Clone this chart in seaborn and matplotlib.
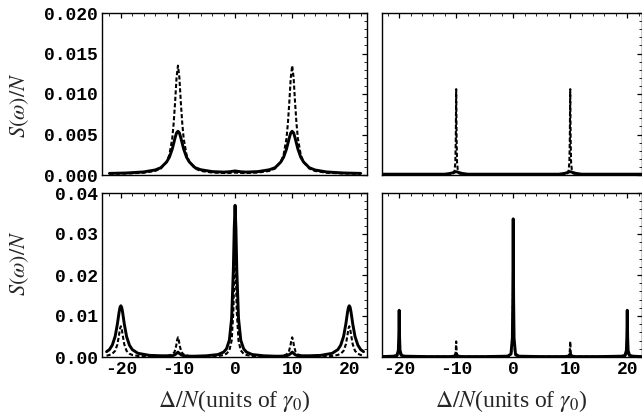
import matplotlib
matplotlib.use("Agg")
import matplotlib.pyplot as plt
from matplotlib.ticker import MultipleLocator, FormatStrFormatter
import seaborn as sns
import numpy as np

# ---- données ----
# panneau haut-gauche
x_tl = [-22, -19, -16, -14, -13, -12, -11.5, -11, -10.75, -10.5, -10.25, -10,
        -9.75, -9.5, -9.25, -9, -8.5, -8, -7, -6, -4, -2, -1, 0,
        1, 2, 4, 6, 7, 8, 8.5, 9, 9.25, 9.5, 9.75, 10,
        10.25, 10.5, 10.75, 11, 11.5, 12, 13, 14, 16, 19, 22]
solid_tl = [0.0002, 0.00025, 0.00038, 0.00062, 0.0009, 0.0016, 0.0022, 0.0032, 0.0039, 0.0046, 0.0052, 0.0054,
            0.0052, 0.0046, 0.0039, 0.0032, 0.0022, 0.0016, 0.0009, 0.00065, 0.00042, 0.00036, 0.0004, 0.0005,
            0.0004, 0.00036, 0.00042, 0.00065, 0.0009, 0.0016, 0.0022, 0.0032, 0.0039, 0.0046, 0.0052, 0.0054,
            0.0052, 0.0046, 0.0039, 0.0032, 0.0022, 0.0016, 0.0009, 0.00062, 0.00038, 0.00025, 0.0002]
dash_tl = [0.00015, 0.00018, 0.00028, 0.0005, 0.0008, 0.0016, 0.0025, 0.0045, 0.0064, 0.009, 0.012, 0.0135,
           0.012, 0.009, 0.0064, 0.0045, 0.0025, 0.0016, 0.0008, 0.0005, 0.0003, 0.00025, 0.00025, 0.0003,
           0.00025, 0.00025, 0.0003, 0.0005, 0.0008, 0.0016, 0.0025, 0.0045, 0.0064, 0.009, 0.012, 0.0135,
           0.012, 0.009, 0.0064, 0.0045, 0.0025, 0.0016, 0.0008, 0.0005, 0.00028, 0.00018, 0.00015]

# panneau bas-gauche
x_bl = [-22.5, -22, -21.5, -21, -20.6, -20.3, -20.15, -20, -19.85, -19.7, -19.4, -19, -18.5, -18,
        -17, -15, -13, -12, -11, -10.6, -10.3, -10.15, -10, -9.85, -9.7, -9.4, -9, -8, -7,
        -5, -3, -2, -1.5, -1, -0.6, -0.3, -0.15, 0, 0.15, 0.3, 0.6, 1, 1.5, 2, 3, 5,
        7, 8, 9, 9.4, 9.7, 9.85, 10, 10.15, 10.3, 10.6, 11, 12, 13, 15, 17,
        18, 18.5, 19, 19.4, 19.7, 19.85, 20, 20.15, 20.3, 20.6, 21, 21.5, 22, 22.5]
solid_bl = [0.0013, 0.0018, 0.0029, 0.005, 0.0081, 0.011, 0.0121, 0.0125, 0.0121, 0.011, 0.0081, 0.005, 0.0029, 0.0018,
            0.0009, 0.0004, 0.0003, 0.0003, 0.0003, 0.0005, 0.0008, 0.001, 0.0012, 0.001, 0.0008, 0.0005, 0.0003, 0.0002, 0.0002,
            0.0003, 0.0006, 0.0012, 0.002, 0.0041, 0.0095, 0.0214, 0.0313, 0.037, 0.0313, 0.0214, 0.0095, 0.0041, 0.002, 0.0012, 0.0006, 0.0003,
            0.0002, 0.0002, 0.0003, 0.0005, 0.0008, 0.001, 0.0012, 0.001, 0.0008, 0.0005, 0.0003, 0.0003, 0.0003, 0.0004, 0.0009,
            0.0018, 0.0029, 0.005, 0.0081, 0.011, 0.0121, 0.0125, 0.0121, 0.011, 0.0081, 0.005, 0.0029, 0.0018, 0.0013]
dash_bl = [0.0003, 0.0005, 0.0008, 0.0015, 0.0031, 0.0055, 0.0069, 0.0075, 0.0069, 0.0055, 0.0031, 0.0015, 0.0008, 0.0005,
           0.00025, 0.0001, 0.0001, 0.0002, 0.0006, 0.0012, 0.0028, 0.0041, 0.0048, 0.0041, 0.0028, 0.0012, 0.0006, 0.0002, 0.0001,
           0.0001, 0.0002, 0.0005, 0.0008, 0.0016, 0.004, 0.011, 0.019, 0.026, 0.019, 0.011, 0.004, 0.0016, 0.0008, 0.0005, 0.0002, 0.0001,
           0.0001, 0.0002, 0.0006, 0.0012, 0.0028, 0.0041, 0.0048, 0.0041, 0.0028, 0.0012, 0.0006, 0.0002, 0.0001, 0.0001, 0.00025,
           0.0005, 0.0008, 0.0015, 0.0031, 0.0055, 0.0069, 0.0075, 0.0069, 0.0055, 0.0031, 0.0015, 0.0008, 0.0005, 0.0003]

# panneau haut-droit
x_tr = [-23, -14, -12, -11, -10.5, -10.3, -10.15, -10.07, -10, -9.93, -9.85, -9.7, -9.5, -9, -8, -4,
        0, 4, 8, 9, 9.5, 9.7, 9.85, 9.93, 10, 10.07, 10.15, 10.3, 10.5, 11, 12, 14, 22.5]
solid_tr = [0.0001, 0.0001, 0.0001, 0.0002, 0.0003, 0.00035, 0.0004, 0.0004, 0.0004, 0.0004, 0.0004, 0.00035, 0.0003, 0.0002, 0.0001, 0.0001,
            0.0001, 0.0001, 0.0001, 0.0002, 0.0003, 0.00035, 0.0004, 0.0004, 0.0004, 0.0004, 0.0004, 0.00035, 0.0003, 0.0002, 0.0001, 0.0001, 0.0001]
dash_tr = [0.0001, 0.0001, 0.0001, 0.0001, 0.0002, 0.0005, 0.0015, 0.0045, 0.0106, 0.0045, 0.0015, 0.0005, 0.0002, 0.0001, 0.0001, 0.0001,
           0.0001, 0.0001, 0.0001, 0.0001, 0.0002, 0.0005, 0.0015, 0.0045, 0.0106, 0.0045, 0.0015, 0.0005, 0.0002, 0.0001, 0.0001, 0.0001, 0.0001]

# panneau bas-droit
x_br = [-23, -21, -20.4, -20.15, -20.07, -20, -19.93, -19.85, -19.6, -19, -15,
        -11, -10.4, -10.15, -10.07, -10, -9.93, -9.85, -9.6, -9, -5,
        -1, -0.4, -0.15, -0.07, 0, 0.07, 0.15, 0.4, 1, 5,
        9, 9.6, 9.85, 9.93, 10, 10.07, 10.15, 10.4, 11, 15,
        19, 19.6, 19.85, 19.93, 20, 20.07, 20.15, 20.4, 21, 22.5]
solid_br = [0.0001, 0.0002, 0.0004, 0.0016, 0.0048, 0.0114, 0.0048, 0.0016, 0.0004, 0.0002, 0.0001,
            0.0001, 0.0002, 0.0004, 0.0006, 0.0008, 0.0006, 0.0004, 0.0002, 0.0001, 0.0001,
            0.0002, 0.0007, 0.0046, 0.0143, 0.0337, 0.0143, 0.0046, 0.0007, 0.0002, 0.0001,
            0.0001, 0.0002, 0.0004, 0.0006, 0.0008, 0.0006, 0.0004, 0.0002, 0.0001, 0.0001,
            0.0002, 0.0004, 0.0016, 0.0048, 0.0114, 0.0048, 0.0016, 0.0004, 0.0002, 0.0001]
dash_br = [0.0001, 0.0001, 0.0002, 0.0008, 0.0025, 0.0075, 0.0025, 0.0008, 0.0002, 0.0001, 0.0001,
           0.0001, 0.0001, 0.0005, 0.0016, 0.0038, 0.0016, 0.0005, 0.0001, 0.0001, 0.0001,
           0.0001, 0.0004, 0.003, 0.01, 0.025, 0.01, 0.003, 0.0004, 0.0001, 0.0001,
           0.0001, 0.0001, 0.0005, 0.0016, 0.0038, 0.0016, 0.0005, 0.0001, 0.0001, 0.0001,
           0.0001, 0.0002, 0.0008, 0.0025, 0.0075, 0.0025, 0.0008, 0.0002, 0.0001, 0.0001]

x_ticks = [-20, -10, 0, 10, 20]
y_ticks_top = [0.0, 0.005, 0.010, 0.015, 0.020]
y_ticks_bot = [0.00, 0.01, 0.02, 0.03, 0.04]

sns.set_style("white")
plt.rcParams['font.family'] = ['Liberation Mono', 'DejaVu Sans Mono']
plt.rcParams['mathtext.fontset'] = 'stix'
plt.rcParams['axes.unicode_minus'] = False

fig = plt.figure(figsize=(6.42, 4.17), dpi=100)
W, H = 642.0, 417.0
def box(l, t, r, b):
    return [l / W, 1 - b / H, (r - l) / W, (b - t) / H]

ax_tl = fig.add_axes(box(102, 13, 367, 175))
ax_bl = fig.add_axes(box(102, 193, 367, 357))
ax_tr = fig.add_axes(box(381.5, 13, 641.5, 175))
ax_br = fig.add_axes(box(381.5, 193, 641.5, 357))

panels = [
    (ax_tl, x_tl, solid_tl, dash_tl, (-23.3, 23.1), (0, 0.020), y_ticks_top, 0.001, "%.3f"),
    (ax_bl, x_bl, solid_bl, dash_bl, (-23.3, 23.1), (0, 0.040), y_ticks_bot, 0.002, "%.2f"),
    (ax_tr, x_tr, solid_tr, dash_tr, (-23.1, 22.5), (0, 0.020), y_ticks_top, 0.001, "%.3f"),
    (ax_br, x_br, solid_br, dash_br, (-23.1, 22.5), (0, 0.040), y_ticks_bot, 0.002, "%.2f"),
]

for ax, xs, ys, yd, xl, yl, yt, ymin, fmt in panels:
    sns.lineplot(x=xs, y=ys, ax=ax, color='black', linewidth=2.1, sort=False, estimator=None)
    sns.lineplot(x=xs, y=yd, ax=ax, color='black', linewidth=1.5, linestyle=(0, (2.0, 1.1)),
                 sort=False, estimator=None)
    ax.set_xlim(*xl)
    ax.set_ylim(*yl)
    ax.set_xticks(x_ticks)
    ax.set_yticks(yt)
    ax.xaxis.set_minor_locator(MultipleLocator(2))
    ax.yaxis.set_minor_locator(MultipleLocator(ymin))
    ax.yaxis.set_major_formatter(FormatStrFormatter(fmt))
    ax.tick_params(which='major', direction='in', length=3.5, width=0.9, top=True, right=True,
                   labelsize=13, pad=3, colors='black')
    ax.tick_params(which='minor', direction='in', length=2, width=0.7, top=True, right=True)
    for lab in ax.get_xticklabels() + ax.get_yticklabels():
        lab.set_fontweight('bold')
    for s in ax.spines.values():
        s.set_linewidth(1.0)
        s.set_color('black')
    ax.set_xlabel("")
    ax.set_ylabel("")

ax_tl.tick_params(labelbottom=False)
ax_tr.tick_params(labelbottom=False, labelleft=False)
ax_br.tick_params(labelleft=False)

for ax, yc in [(ax_tl, 0.43), (ax_bl, 0.57)]:
    ax.set_ylabel(r"$S(\omega)/N$", fontsize=16)
    ax.yaxis.set_label_coords(-0.31, yc)
    ax.yaxis.label.set_va('center')

for ax in [ax_bl, ax_br]:
    ax.set_xlabel(r"$\Delta/N$(units of $\gamma_0$)", fontsize=17, family='Liberation Serif')
    ax.xaxis.set_label_coords(0.5, -0.27)
    ax.xaxis.label.set_va('center')

fig.savefig("out.png", dpi=100)
